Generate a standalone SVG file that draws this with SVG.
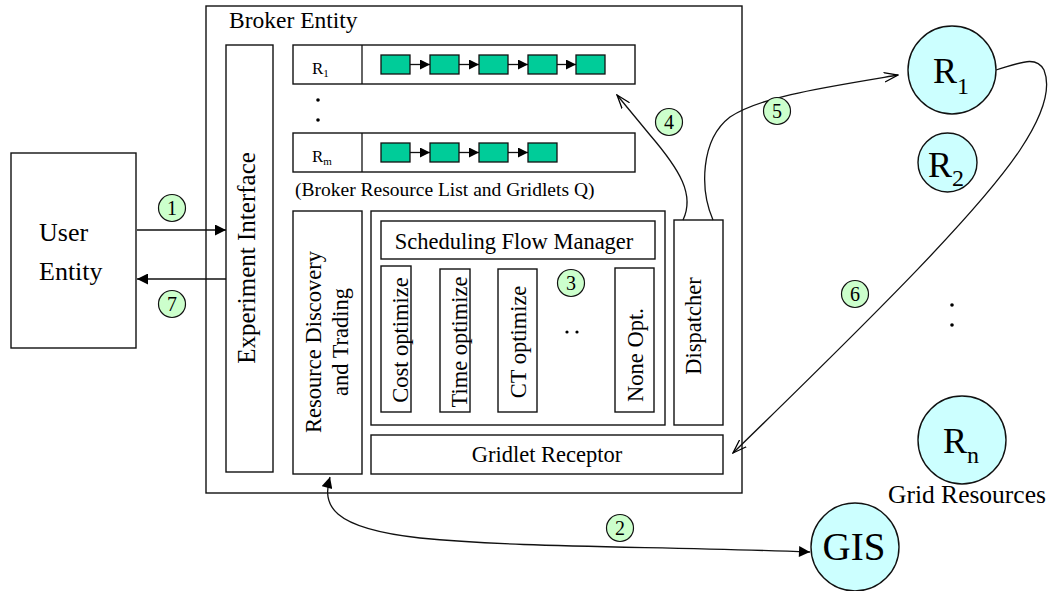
<svg xmlns="http://www.w3.org/2000/svg" width="1050" height="591" viewBox="0 0 1050 591">
<style>
.box{fill:#fff;stroke:#111;stroke-width:1.4}
.q{fill:#00cc99;stroke:#111;stroke-width:1.3}
.t{font-family:"Liberation Serif","Times New Roman",serif;fill:#000}
.num{fill:#ccffcc;stroke:#111;stroke-width:1.2}
.res{fill:#ccffff;stroke:#111;stroke-width:1.4}
.ln{fill:none;stroke:#111;stroke-width:1.3}
</style>
<defs>
<marker id="fa" viewBox="0 0 10 10" refX="10" refY="5" markerWidth="13" markerHeight="11" markerUnits="userSpaceOnUse" orient="auto-start-reverse"><path d="M0,0 L10,5 L0,10 z" fill="#000"/></marker>
<marker id="fs" viewBox="0 0 10 10" refX="10" refY="5" markerWidth="11" markerHeight="10" markerUnits="userSpaceOnUse" orient="auto"><path d="M0,0 L10,5 L0,10 z" fill="#000"/></marker>
<marker id="oa" viewBox="0 0 14 10" refX="13" refY="5" markerWidth="15" markerHeight="11" markerUnits="userSpaceOnUse" orient="auto"><path d="M0,0.5 L13,5 L0,9.5" fill="none" stroke="#000" stroke-width="1.2"/></marker>
</defs>

<g id="user-entity">
<rect class="box" x="11" y="153" width="125" height="195"/>
<text class="t" x="39" y="241" font-size="26">User</text>
<text class="t" x="39" y="280" font-size="26">Entity</text>
</g>

<g id="broker-entity">
<rect class="box" x="206" y="6" width="536" height="487"/>
<text class="t" x="229" y="28" font-size="23.5">Broker Entity</text>
</g>

<g id="experiment-interface">
<rect class="box" x="226" y="45" width="47" height="427"/>
<text class="t" font-size="25" text-anchor="middle" transform="translate(255,258) rotate(-90)">Experiment Interface</text>
</g>

<g id="queue-r1">
<rect class="box" x="293" y="45" width="342" height="39"/>
<line class="ln" x1="362" y1="45" x2="362" y2="84"/>
<text class="t" x="312" y="74" font-size="17">R<tspan font-size="11" dy="3">1</tspan></text>
<rect class="q" x="381" y="55" width="29" height="19"/>
<rect class="q" x="430" y="55" width="29" height="19"/>
<rect class="q" x="479" y="55" width="29" height="19"/>
<rect class="q" x="528" y="55" width="29" height="19"/>
<rect class="q" x="576" y="55" width="29" height="19"/>
<line class="ln" x1="410" y1="64.5" x2="430" y2="64.5" marker-end="url(#fs)"/>
<line class="ln" x1="459" y1="64.5" x2="479" y2="64.5" marker-end="url(#fs)"/>
<line class="ln" x1="508" y1="64.5" x2="528" y2="64.5" marker-end="url(#fs)"/>
<line class="ln" x1="557" y1="64.5" x2="576" y2="64.5" marker-end="url(#fs)"/>
</g>

<g id="queue-dots">
<circle cx="318" cy="100" r="1.8" fill="#000"/>
<circle cx="318" cy="120" r="1.8" fill="#000"/>
</g>

<g id="queue-rm">
<rect class="box" x="293" y="133" width="342" height="39"/>
<line class="ln" x1="362" y1="133" x2="362" y2="172"/>
<text class="t" x="312" y="162" font-size="17">R<tspan font-size="11" dy="3">m</tspan></text>
<rect class="q" x="381" y="143" width="29" height="19"/>
<rect class="q" x="430" y="143" width="29" height="19"/>
<rect class="q" x="479" y="143" width="29" height="19"/>
<rect class="q" x="528" y="143" width="29" height="19"/>
<line class="ln" x1="410" y1="152.5" x2="430" y2="152.5" marker-end="url(#fs)"/>
<line class="ln" x1="459" y1="152.5" x2="479" y2="152.5" marker-end="url(#fs)"/>
<line class="ln" x1="508" y1="152.5" x2="528" y2="152.5" marker-end="url(#fs)"/>
</g>

<g id="queue-caption">
<text class="t" x="295" y="196" font-size="19.5">(Broker Resource List and Gridlets Q)</text>
</g>

<g id="resource-discovery">
<rect class="box" x="293" y="211" width="69" height="263"/>
<text class="t" font-size="22.5" text-anchor="middle" transform="translate(321,342) rotate(-90)">Resource Discovery</text>
<text class="t" font-size="22.5" text-anchor="middle" transform="translate(348,342) rotate(-90)">and Trading</text>
</g>

<g id="scheduler">
<rect class="box" x="371" y="211" width="294" height="214"/>
</g>

<g id="scheduling-flow-manager">
<rect class="box" x="381" y="221" width="274" height="38"/>
<text class="t" x="514" y="249" font-size="22.5" text-anchor="middle">Scheduling Flow Manager</text>
</g>

<g id="cost-optimize">
<rect class="box" x="381" y="266" width="30" height="146"/>
<text class="t" font-size="22.5" text-anchor="middle" transform="translate(408,340) rotate(-90)">Cost optimize</text>
</g>

<g id="time-optimize">
<rect class="box" x="440" y="269" width="30" height="143"/>
<text class="t" font-size="22.5" text-anchor="middle" transform="translate(467,342) rotate(-90)">Time optimize</text>
</g>

<g id="ct-optimize">
<rect class="box" x="498" y="269" width="39" height="143"/>
<text class="t" font-size="22.5" text-anchor="middle" transform="translate(526,342) rotate(-90)">CT optimize</text>
</g>

<g id="opt-dots">
<circle cx="567" cy="332" r="1.6" fill="#000"/>
<circle cx="577" cy="332" r="1.6" fill="#000"/>
</g>

<g id="none-opt">
<rect class="box" x="615" y="268" width="39" height="144"/>
<text class="t" font-size="22.5" text-anchor="middle" transform="translate(643,355) rotate(-90)">None Opt.</text>
</g>

<g id="dispatcher">
<rect class="box" x="674" y="220" width="49" height="205"/>
<text class="t" font-size="22.5" text-anchor="middle" transform="translate(701,326) rotate(-90)">Dispatcher</text>
</g>

<g id="gridlet-receptor">
<rect class="box" x="371" y="435" width="352" height="39"/>
<text class="t" x="547" y="462" font-size="22.5" text-anchor="middle">Gridlet Receptor</text>
</g>

<g id="r1">
<circle class="res" cx="952" cy="70" r="44"/>
<text class="t" x="933" y="83" font-size="36">R<tspan font-size="24" dy="11">1</tspan></text>
</g>

<g id="r2">
<circle class="res" cx="947.5" cy="162.5" r="29.5"/>
<text class="t" x="928" y="177" font-size="36">R<tspan font-size="24" dy="9">2</tspan></text>
</g>

<g id="resource-dots">
<circle cx="952" cy="305" r="1.8" fill="#000"/>
<circle cx="952" cy="325" r="1.8" fill="#000"/>
</g>

<g id="rn">
<circle class="res" cx="962" cy="440" r="44"/>
<text class="t" x="943" y="453" font-size="36">R<tspan font-size="24" dy="10">n</tspan></text>
<text class="t" x="888" y="503" font-size="25.5">Grid Resources</text>
</g>

<g id="gis">
<circle class="res" cx="855" cy="547" r="44"/>
<text class="t" x="854" y="560" font-size="39" text-anchor="middle">GIS</text>
</g>

<g id="connectors">
<line class="ln" x1="137" y1="230" x2="226" y2="230" marker-end="url(#fa)"/>
<line class="ln" x1="226" y1="279" x2="137" y2="279" marker-end="url(#fa)"/>
<path class="ln" d="M330,477 C322,505 330,528 420,538 C520,548 650,546 810,552" marker-start="url(#fa)" marker-end="url(#fa)"/>
<path class="ln" d="M683,220 C695,195 680,170 650,135 L617,95" marker-end="url(#oa)"/>
<path class="ln" d="M713,220 C700,190 700,140 730,117 C760,97 820,88 898,75" marker-end="url(#oa)"/>
<path class="ln" d="M996,70 C1020,63 1036,55 1044,70 C1052,90 1040,120 1020,150 C980,210 880,310 733,453" marker-end="url(#oa)"/>
</g>

<g id="step-labels">
<circle class="num" cx="172" cy="208" r="13.5"/><text class="t" x="172" y="215" font-size="20" text-anchor="middle">1</text>
<circle class="num" cx="172" cy="304" r="13.5"/><text class="t" x="172" y="311" font-size="20" text-anchor="middle">7</text>
<circle class="num" cx="620" cy="528" r="13.5"/><text class="t" x="620" y="535" font-size="20" text-anchor="middle">2</text>
<circle class="num" cx="571" cy="283" r="13.5"/><text class="t" x="571" y="290" font-size="20" text-anchor="middle">3</text>
<circle class="num" cx="669" cy="122" r="13.5"/><text class="t" x="669" y="129" font-size="20" text-anchor="middle">4</text>
<circle class="num" cx="777" cy="111" r="13.5"/><text class="t" x="777" y="118" font-size="20" text-anchor="middle">5</text>
<circle class="num" cx="855" cy="294" r="13.5"/><text class="t" x="855" y="301" font-size="20" text-anchor="middle">6</text>
</g>
</svg>
